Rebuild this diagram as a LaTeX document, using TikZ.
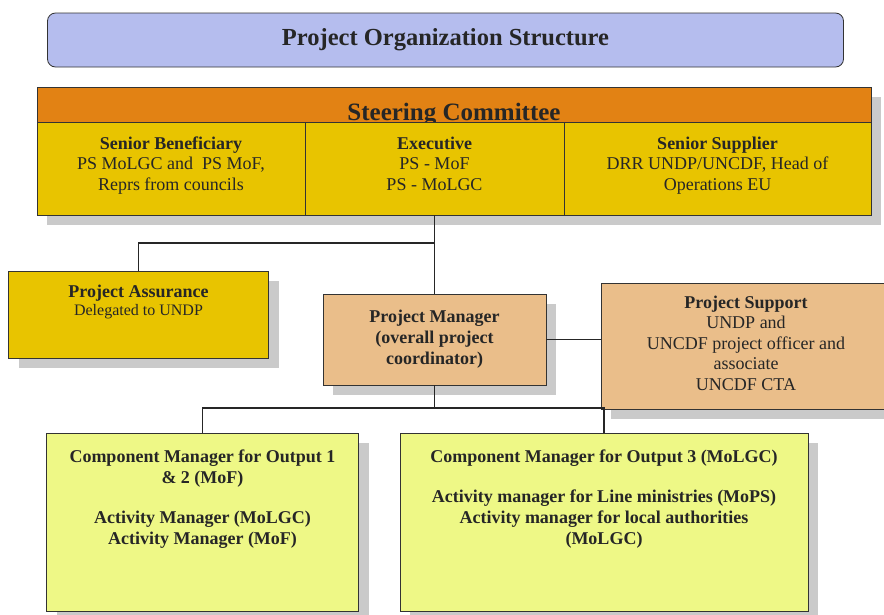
\documentclass[tikz,border=0pt]{standalone}
\usepackage{fontspec}
\setmainfont{LiberationSerif-Regular.ttf}[BoldFont=LiberationSerif-Bold.ttf]
\usetikzlibrary{positioning,shadows}

\definecolor{titleblue}{RGB}{181,189,238}
\definecolor{steerorange}{RGB}{226,130,20}
\definecolor{boardgold}{RGB}{232,196,0}
\definecolor{mgrtan}{RGB}{234,190,138}
\definecolor{complime}{RGB}{238,248,134}
\definecolor{shadegray}{RGB}{202,202,202}

\tikzset{
  box/.style   = {draw=black!80, line width=0.8pt, align=center, inner sep=0pt, outer sep=0pt, text=black!85},
  shade/.style = {drop shadow={shadow xshift=10pt, shadow yshift=-10pt, fill=shadegray, opacity=1}},
  txt/.style   = {font=\fontsize{18}{20.5}\selectfont},
  txtb/.style  = {font=\fontsize{18}{21}\selectfont\bfseries},
  seat/.style  = {box, shade, txt, fill=boardgold, minimum height=93pt, text depth=10pt},
  link/.style  = {line width=1.2pt, black!85},
}

\begin{document}
\begin{tikzpicture}[x=1pt, y=-1pt]
    \useasboundingbox (0,0) rectangle (884,614);

    \node[box, rounded corners=8pt, fill=titleblue, minimum width=796pt, minimum height=54pt,
          font=\fontsize{24.5}{28}\selectfont\bfseries] (title) at (445.5,40) {Project Organization Structure};

    % steering committee: header strip and three seats
    \node[box, shade, fill=steerorange, minimum width=834pt, minimum height=35pt] (steer) at (454,104.5) {};
    \node[anchor=base, inner sep=0pt, text=black!85, font=\fontsize{25}{28}\selectfont\bfseries]
          (steertxt) at ([yshift=2pt]steer.south) {Steering Committee};
    \node[seat, minimum width=268pt, anchor=north west] (benef) at (steer.south west)
          {\textbf{Senior Beneficiary}\\PS MoLGC and\ \ PS MoF,\\Reprs from councils};
    \node[seat, minimum width=259pt, right=0pt of benef] (exec) {\textbf{Executive}\\PS - MoF\\PS - MoLGC};
    \node[seat, minimum width=307pt, right=0pt of exec] (supplier)
          {\textbf{Senior Supplier}\\DRR UNDP/UNCDF, Head of\\Operations EU};

    \node[box, shade, fill=boardgold, minimum width=260pt, minimum height=87pt] (assure) at (138.5,314.5) {};
    \node[below=14pt of assure.north, align=center, inner sep=0pt, text=black!85, font=\fontsize{16}{18}\selectfont]
          (assuretxt) {{\fontsize{18}{18}\selectfont\bfseries Project Assurance}\\Delegated to UNDP};

    \node[box, shade, txtb, fill=mgrtan, minimum width=223pt, minimum height=91pt, below=79pt of exec]
          (pm) {Project Manager\\(overall project\\coordinator)};
    \node[box, shade, txt, fill=mgrtan, minimum width=290pt, minimum height=126pt, text depth=6pt] (ps) at (746,346)
          {\textbf{Project Support}\\UNDP and\\UNCDF project officer and\\associate\\UNCDF CTA};

    % output components
    \node[box, shade, fill=complime, minimum width=312pt, minimum height=178pt] (comp1) at (202.5,522) {};
    \node[box, shade, fill=complime, minimum width=408pt, minimum height=178pt] (comp2) at (604,522) {};
    \node[below=16.5pt of comp1.north, align=center, inner sep=0pt, text=black!85, txtb]
          (comp1txt) {Component Manager for Output 1\\\& 2 (MoF)\\[19pt]Activity Manager (MoLGC)\\Activity Manager (MoF)};
    \node[below=16.5pt of comp2.north, align=center, inner sep=0pt, text=black!85, txtb]
          (comp2txt) {Component Manager for Output 3 (MoLGC)\\[19pt]Activity manager for Line ministries (MoPS)\\Activity manager for local authorities\\(MoLGC)};

    \draw[link] (exec.south) -- (pm.north);
    \draw[link] (exec.south) ++(0,28) -| (assure.north);
    \draw[link] (pm.east) -- (pm.east -| ps.west);
    \draw[link] (pm.south) -- ++(0,23) coordinate (hub) -| (comp1.north);
    \draw[link] (hub) -| (comp2.north);
\end{tikzpicture}
\end{document}
